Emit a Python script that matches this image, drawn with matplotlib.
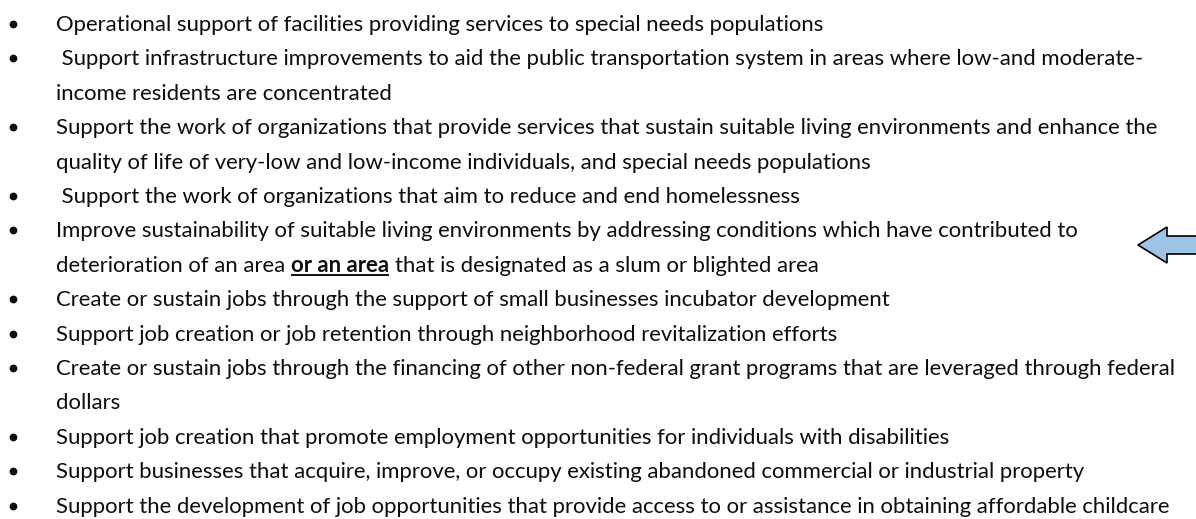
import matplotlib
matplotlib.use("Agg")
import matplotlib.pyplot as plt
from matplotlib.patches import Polygon

W, H = 1196, 519

# Bullet items (each a list of wrapped lines as in the reference)
items = [
    ["Operational support of facilities providing services to special needs populations"],
    [" Support infrastructure improvements to aid the public transportation system in areas where low-and moderate-",
     "income residents are concentrated"],
    ["Support the work of organizations that provide services that sustain suitable living environments and enhance the",
     "quality of life of very-low and low-income individuals, and special needs populations"],
    [" Support the work of organizations that aim to reduce and end homelessness"],
    ["Improve sustainability of suitable living environments by addressing conditions which have contributed to",
     ["deterioration of an area", "or an area", "that is designated as a slum or blighted area"]],
    ["Create or sustain jobs through the support of small businesses incubator development"],
    ["Support job creation or job retention through neighborhood revitalization efforts"],
    ["Create or sustain jobs through the financing of other non-federal grant programs that are leveraged through federal",
     "dollars"],
    ["Support job creation that promote employment opportunities for individuals with disabilities"],
    ["Support businesses that acquire, improve, or occupy existing abandoned commercial or industrial property"],
    ["Support the development of job opportunities that provide access to or assistance in obtaining affordable childcare"],
]

FONT = "Lato"
TEXT_COLOR = "#0d0d0d"
X_TEXT = 56
X_BULLET = 12.7
BASE0 = 31.0
STEP = 34.4

fig = plt.figure(figsize=(W / 100, H / 100), dpi=100)
ax = fig.add_axes([0, 0, 1, 1])
ax.set_xlim(0, W)
ax.set_ylim(H, 0)
ax.axis("off")
renderer = fig.canvas.get_renderer()


def width_of(s, fs, weight="normal"):
    t = ax.text(0, 0, s, fontsize=fs, family=FONT, fontweight=weight)
    bb = t.get_window_extent(renderer)
    t.remove()
    return bb.width

# fit the font size so several long lines span the widths they have in the reference
fit_lines = [items[1][0], items[2][0], items[7][0], items[9][0], items[10][0]]
fit_ends = [1147, 1157, 1173, 1095, 1177]
meas = sum(width_of(s, 15.0) for s in fit_lines)
targ = sum(e - X_TEXT for e in fit_ends)
fs = 15.0 * targ / meas
space_w = width_of("a a", fs) - width_of("aa", fs)

row = 0
for item in items:
    for j, line in enumerate(item):
        y = BASE0 + row * STEP
        if j == 0:
            ax.plot([X_BULLET], [y - 7], marker="o", ms=5.6, color=TEXT_COLOR, mew=0)
        if isinstance(line, list):
            pre, bold, post = line
            x = X_TEXT
            ax.text(x, y, pre, fontsize=fs, family=FONT, va="baseline", color=TEXT_COLOR)
            x += width_of(pre, fs) + space_w
            ax.text(x, y, bold, fontsize=fs, family=FONT, fontweight="bold", va="baseline", color=TEXT_COLOR)
            bw = width_of(bold, fs, "bold")
            ax.plot([x, x + bw], [y + 3.5, y + 3.5], color=TEXT_COLOR, lw=1.4, solid_capstyle="butt")
            x += bw + space_w
            ax.text(x, y, post, fontsize=fs, family=FONT, va="baseline", color=TEXT_COLOR)
        else:
            ax.text(X_TEXT, y, line, fontsize=fs, family=FONT, va="baseline", color=TEXT_COLOR)
        row += 1

# left-pointing block arrow at right edge
arrow = Polygon([(1138, 245), (1167, 227), (1167, 236), (1200, 236), (1200, 254),
                 (1167, 254), (1167, 263)], closed=True, facecolor="#9DC3E6",
                edgecolor="black", lw=1.2, joinstyle="miter")
ax.add_patch(arrow)

fig.savefig("out.png", dpi=100, facecolor="white")
